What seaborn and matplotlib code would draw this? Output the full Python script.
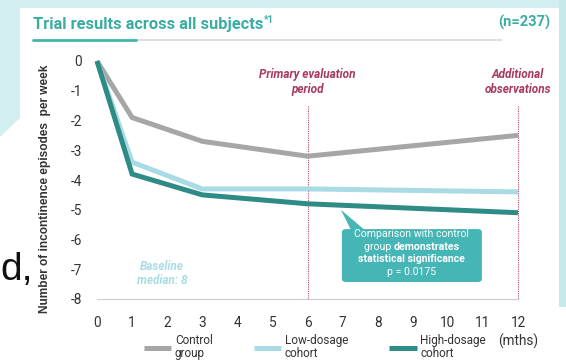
import matplotlib
matplotlib.use("Agg")
import matplotlib.pyplot as plt
import seaborn as sns
import pandas as pd
from matplotlib.lines import Line2D
from matplotlib.patches import FancyBboxPatch, Polygon, Rectangle

# ---- data ----
months = [0, 1, 3, 6, 12]
control = [0, -1.9, -2.7, -3.2, -2.5]
low_dose = [0, -3.4, -4.3, -4.3, -4.4]
high_dose = [0, -3.8, -4.5, -4.8, -5.1]
series_names = ["Control\ngroup", "Low-dosage\ncohort", "High-dosage\ncohort"]
x_ticks = list(range(0, 13))
y_ticks = list(range(0, -9, -1))

colors = ["#a6a6a6", "#a9dbe5", "#2f8b85"]

df = pd.DataFrame({
    "month": months * 3,
    "value": control + low_dose + high_dose,
    "series": sum([[n] * len(months) for n in series_names], []),
})

sns.set_theme(style="white")
plt.rcParams["font.family"] = ["Roboto", "DejaVu Sans"]
plt.rcParams["axes.unicode_minus"] = False

W, H = 566, 363
fig = plt.figure(figsize=(W / 100, H / 100), dpi=100)
fig.patch.set_facecolor("white")

def fx(px):
    return px / W

def fy(py):
    return 1 - py / H

# background decorations
cyan = "#d3eeee"
fig.patches.append(Rectangle((0, fy(8)), 1, 8 / H, transform=fig.transFigure,
                             facecolor=cyan, edgecolor="none", zorder=0))
fig.patches.append(Polygon([(0, 1), (fx(20), 1), (fx(20), fy(118)), (0, fy(137))],
                           closed=True, transform=fig.transFigure,
                           facecolor=cyan, edgecolor="none", zorder=0))
fig.patches.append(Rectangle((fx(559), fy(307)), 7 / W, 307 / H, transform=fig.transFigure,
                             facecolor="#c6e9ea", edgecolor="none", zorder=0))

ax = fig.add_axes([fx(97), fy(299), fx(518) - fx(97), fy(61) - fy(299)])
ax.set_facecolor("none")

sns.lineplot(data=df, x="month", y="value", hue="series", palette=colors,
             hue_order=series_names, linewidth=3.6, legend=False, ax=ax,
             estimator=None, sort=False)
for ln in ax.lines:
    ln.set_clip_on(False)
    ln.set_solid_capstyle("butt")
    ln.set_solid_joinstyle("miter")
for ln, z in zip(ax.lines, [3, 4, 5]):
    ln.set_zorder(z)

ax.set_xlim(0, 12)
ax.set_ylim(-8, 0)
ax.set_xticks(x_ticks)
ax.set_yticks(y_ticks)
ax.set_xticklabels([str(v) for v in x_ticks])
ax.set_yticklabels([str(v) for v in y_ticks])
ax.tick_params(axis="x", direction="in", length=3, width=0.6, color="#c8c8c8",
               labelsize=9.8, labelcolor="#333333", pad=12)
ax.tick_params(axis="y", length=0, labelsize=9.8, labelcolor="#333333", pad=11)
for s in ["top", "right", "left"]:
    ax.spines[s].set_visible(False)
ax.spines["bottom"].set_color("#cccccc")
ax.spines["bottom"].set_linewidth(0.8)
ax.set_xlabel("")
ax.set_ylabel("")

# vertical dotted lines
for xv in [6, 12]:
    ax.plot([xv, xv], [-1.5, -8], color="#b5476e", linewidth=0.8,
            linestyle=(0, (1, 1)), zorder=2, clip_on=False)

pink = "#a8385f"
ax.text(6, -0.7, "Primary evaluation\nperiod", ha="center", va="center",
        fontsize=8.5, fontstyle="italic", fontweight="bold", color=pink,
        linespacing=1.15)
ax.text(12, -0.7, "Additional\nobservations", ha="center", va="center",
        fontsize=8.5, fontstyle="italic", fontweight="bold", color=pink,
        linespacing=1.15)
ax.text(1.85, -7.15, "Baseline\nmedian: 8", ha="center", va="center",
        fontsize=8.5, fontstyle="italic", fontweight="bold", color="#a9dde3",
        linespacing=1.15)

# annotation box
box_col = "#45b5b5"
ax.add_patch(FancyBboxPatch((6.98, -7.43), 10.97 - 6.98, 7.43 - 5.65,
                            boxstyle="round,pad=0,rounding_size=0.12",
                            facecolor=box_col, edgecolor="none", zorder=6,
                            mutation_aspect=0.85))
ax.add_patch(Polygon([(6.95, -5.0), (7.25, -5.7), (7.65, -5.7)], closed=True,
                     facecolor=box_col, edgecolor="none", zorder=6))
tfs = 7.6
xc = 8.97
ax.text(xc, -5.83, "Comparison with control", ha="center", va="center",
        fontsize=tfs, color="white", zorder=7)
fig.canvas.draw()
r = fig.canvas.get_renderer()
t1 = ax.text(0, 0, "group ", fontsize=tfs, color="white", zorder=7, va="center")
t2 = ax.text(0, 0, "demonstrates", fontsize=tfs, color="white", fontweight="bold",
             zorder=7, va="center")
w1 = t1.get_window_extent(r).width
w2 = t2.get_window_extent(r).width
inv = ax.transData.inverted()
cx_px = ax.transData.transform((xc, -6.25))
start = inv.transform((cx_px[0] - (w1 + w2) / 2, cx_px[1]))[0]
mid = inv.transform((cx_px[0] - (w1 + w2) / 2 + w1, cx_px[1]))[0]
t1.set_position((start, -6.25))
t2.set_position((mid, -6.25))
ax.text(xc, -6.67, "statistical significance", ha="center", va="center",
        fontsize=tfs, color="white", fontweight="bold", zorder=7)
ax.text(xc, -7.1, "p = 0.0175", ha="center", va="center",
        fontsize=tfs, color="white", zorder=7)

# y label
fig.text(fx(45), fy(189), "Number of incontinence episodes  per week", rotation=90,
         ha="center", va="center", fontsize=8.6, fontweight="bold",
         color="#333333", family=["Liberation Sans", "DejaVu Sans"])

# (mths)
fig.text(fx(518), fy(341), "(mths)", ha="center", va="center", fontsize=9.8,
         color="#333333")

# title
teal = "#3aada3"
fig.text(fx(33), fy(24), "Trial results across all subjects", ha="left", va="center",
         fontsize=11.8, fontweight="bold", color=teal)
fig.text(fx(264), fy(20), "*1", ha="left", va="center", fontsize=7,
         fontweight="bold", color=teal)
fig.text(fx(550), fy(22), "(n=237)", ha="right", va="center", fontsize=10.5,
         fontweight="bold", color=teal)
fig.add_artist(Line2D([fx(136), fx(502)], [fy(40), fy(40)], color="#d9d9d9",
                      linewidth=1.2, transform=fig.transFigure))
fig.add_artist(Line2D([fx(33), fx(136)], [fy(40), fy(40)], color="#3fb5a8",
                      linewidth=2.0, transform=fig.transFigure))

# stray text from the page
fig.text(fx(0.5), fy(280), "d,", ha="left", va="baseline", fontsize=28,
         color="#111111", family=["Liberation Sans", "DejaVu Sans"])

# legend
handles = [Line2D([], [], color=c, linewidth=3.6, solid_capstyle="butt") for c in colors]
leg = fig.legend(handles, series_names, loc="center", ncol=3,
                 bbox_to_anchor=(fx(315), fy(347)), frameon=False,
                 fontsize=8.5, handlelength=2.3, handletextpad=0.3,
                 columnspacing=3.5, labelspacing=0.2)
for t in leg.get_texts():
    t.set_color("#333333")
    t.set_linespacing(1.0)

fig.savefig("out.png", dpi=100, facecolor=fig.get_facecolor())
